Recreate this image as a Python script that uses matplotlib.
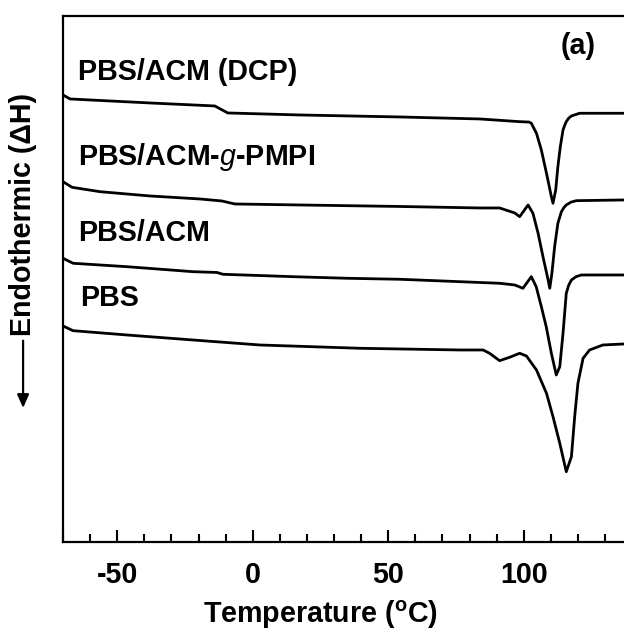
import matplotlib
matplotlib.use("Agg")
import matplotlib.pyplot as plt
from matplotlib.ticker import MultipleLocator

plt.rcParams['font.family'] = ['Liberation Sans', 'DejaVu Sans']
plt.rcParams['font.weight'] = 'bold'
plt.rcParams['mathtext.fontset'] = 'custom'
plt.rcParams['mathtext.rm'] = 'Liberation Sans:bold'
plt.rcParams['mathtext.it'] = 'Liberation Sans:style=italic:weight=normal'

# ---- data (temperature in degC, heat flow in arbitrary units) ----
t_dcp = [-70, -67.4, -37.9, -14.0, -9.2, 17.4, 54.3, 83.8, 98.5, 102.0, 102.8, 104.7, 106.5,
         108.4, 110.2, 110.8, 111.8, 112.6, 113.5, 114.5, 115.2, 115.7, 116.6, 117.6, 120.6, 136.9]
h_dcp = [446.7, 442.7, 438.7, 435.7, 428.7, 426.7, 424.7, 422.7, 420.0, 419.6, 418.4, 408.4, 391.7,
         368.4, 345.0, 338.4, 351.7, 375.0, 395.0, 411.7, 417.0, 420.0, 423.5, 425.7, 428.4, 428.4]

t_gpmpi = [-70, -66.7, -56.4, -37.9, -19.5, -11.4, -6.6, 17.4, 54.3, 83.8, 91.1, 96.7, 98.5,
           101.6, 103.4, 105.3, 107.1, 109.0, 109.6, 110.4, 111.4, 112.6, 113.9, 114.8, 115.7,
           117.4, 119.4, 136.9]
h_gpmpi = [360.0, 354.4, 350.0, 345.7, 342.7, 340.7, 337.7, 336.7, 335.2, 333.7, 333.7, 328.7, 325.0,
           336.7, 328.4, 308.4, 285.0, 261.7, 253.4, 268.4, 295.0, 318.4, 330.0, 334.0, 336.7,
           339.5, 341.0, 341.7]

t_acm = [-70, -66.3, -46.5, -22.1, -13.2, -11.0, 14.8, 34.7, 54.3, 91.1, 96.7, 99.7, 102.8,
         104.6, 106.5, 108.3, 110.2, 112.0, 113.3, 114.5, 115.7, 116.6, 117.6, 119.3, 121.3, 136.9]
h_acm = [283.4, 278.4, 275.0, 270.0, 269.2, 267.4, 265.0, 263.4, 262.4, 258.4, 256.7, 253.4, 265.0,
         255.0, 235.0, 215.0, 188.4, 166.7, 175.0, 208.4, 248.4, 256.5, 261.7, 265.0, 266.7, 266.7]

t_pbs = [-70, -66.3, -46.4, -22.1, 2.6, 39.5, 76.4, 85.0, 87.4, 91.1, 94.8, 98.5, 101.0, 104.7,
         108.4, 110.8, 113.3, 115.7, 117.6, 118.8, 120.0, 121.9, 124.3, 129.2, 136.9]
h_pbs = [215.7, 211.0, 206.7, 201.7, 196.7, 193.4, 191.7, 191.7, 188.4, 181.0, 184.4, 188.4, 185.7, 171.7,
         148.4, 125.0, 98.4, 70.0, 85.0, 125.0, 158.4, 183.4, 191.7, 196.7, 197.7]

labels = ["PBS/ACM (DCP)", r"PBS/ACM-$\mathit{g}$-PMPI", "PBS/ACM", "PBS"]
label_x = [-64.5, -64.5, -64.5, -63.8]
label_y = [469.7, 384.7, 308.7, 243.7]

xticks = [-50, 0, 50, 100]

FS = 20.6

fig = plt.figure(figsize=(6.24, 6.34), dpi=100)
ax = fig.add_axes([0.101, 0.1456, 0.899, 0.8297])

for t, h in [(t_dcp, h_dcp), (t_gpmpi, h_gpmpi), (t_acm, h_acm), (t_pbs, h_pbs)]:
    ax.plot(t, h, color='black', lw=2.0, solid_joinstyle='round')

for lab, x, y in zip(labels, label_x, label_y):
    ax.text(x, y, lab, fontsize=FS, fontweight='bold', ha='left', va='center')

ax.text(0.918, 0.942, "(a)", transform=ax.transAxes, fontsize=FS,
        fontweight='bold', ha='center', va='center')

ax.set_xlim(-70, 137)
ax.set_ylim(0, 526)
ax.set_xticks(xticks)
ax.set_xticklabels([str(v) for v in xticks], fontsize=FS, fontweight='bold')
ax.xaxis.set_minor_locator(MultipleLocator(10))
ax.tick_params(axis='x', which='major', direction='in', length=8.5, width=1.5, pad=14)
ax.tick_params(axis='x', which='minor', direction='in', length=5.5, width=1.5)
ax.set_yticks([])
for s in ['left', 'bottom', 'top']:
    ax.spines[s].set_linewidth(1.6)
ax.spines['right'].set_visible(False)

fig.text(0.514, 0.030, r"Temperature ($^\mathrm{o}$C)", fontsize=FS, fontweight='bold',
         ha='center', va='center')
fig.text(0.037, 0.662, "Endothermic (\u0394H)", fontsize=FS, fontweight='bold',
         rotation=90, ha='center', va='center')
fig.add_artist(matplotlib.patches.FancyArrowPatch(
    (0.037, 0.467), (0.037, 0.352), transform=fig.transFigure,
    arrowstyle='-|>,head_length=8,head_width=3.5', lw=1.6, color='black'))

fig.savefig("out.png", dpi=100)
